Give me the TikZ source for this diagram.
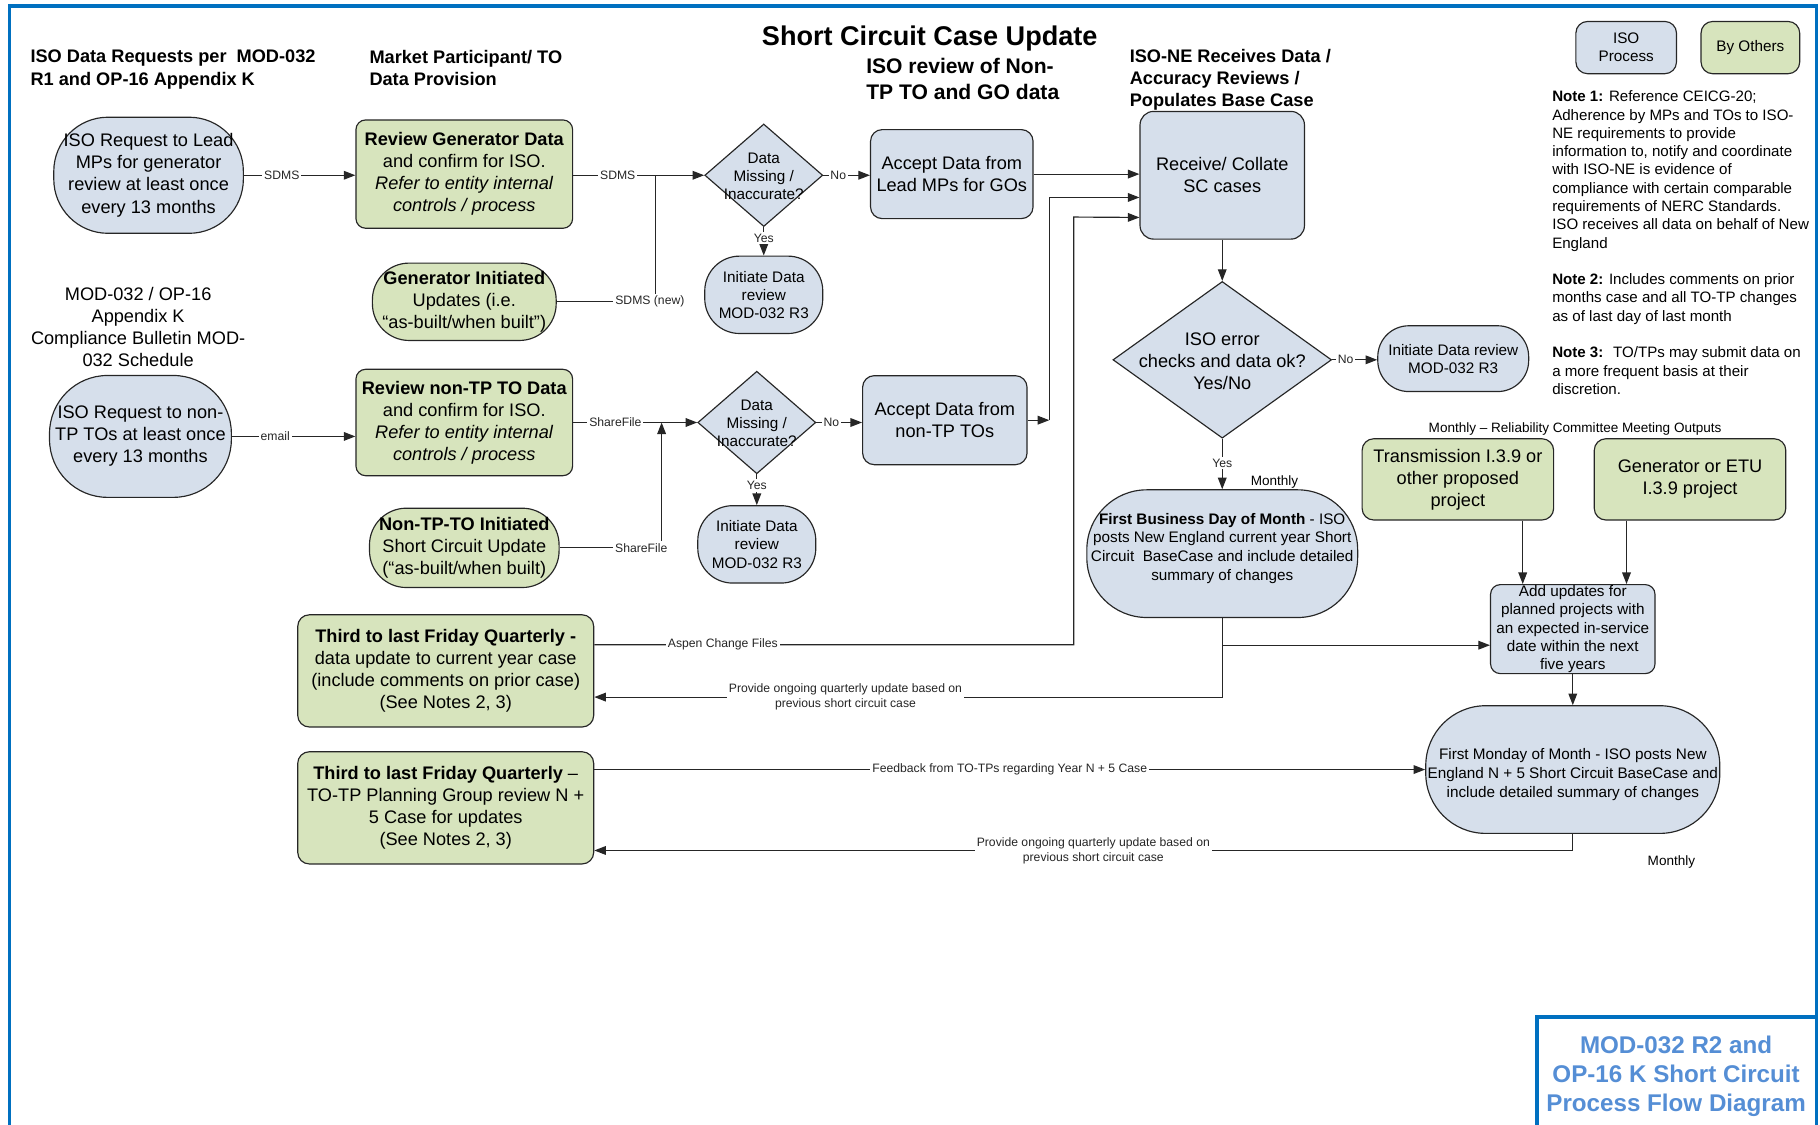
\documentclass[tikz,border=0pt]{standalone}
\usepackage{fontspec}
\setmainfont{Liberation Sans}
\usetikzlibrary{shapes.geometric, arrows.meta}
\definecolor{isoblue}{HTML}{D6DFEB}
\definecolor{othgreen}{HTML}{D7E4BD}
\definecolor{framebl}{HTML}{0070C0}
\definecolor{titlebl}{HTML}{558ED5}
\newcommand{\fmain}{\fontsize{9.4}{11.4}\selectfont}
\newcommand{\fsmall}{\fontsize{7.9}{9.4}\selectfont}
\newcommand{\flbl}{\fontsize{6.3}{7.8}\selectfont}
\newcommand{\dtxt}[2][0pt]{\makebox[0pt]{\smash{\raisebox{\dimexpr-0.42em+#1\relax}{\begin{tabular}[c]{@{}c@{}}#2\end{tabular}}}}}

\begin{document}
\begin{tikzpicture}
                \tikzset{x=0.6pt, y=-0.6pt, >={Triangle[length=6pt,width=4.5pt]}}
                \tikzstyle{iso}=[rectangle, draw=black!85, fill=isoblue, line width=0.6pt, align=center, font=\fmain, inner sep=1pt]
                \tikzstyle{oth}=[iso, fill=othgreen]
                \tikzstyle{dia}=[diamond, draw=black!85, fill=isoblue, line width=0.6pt, inner sep=0pt, font=\fsmall]
                \tikzstyle{lbl}=[fill=white, inner sep=1pt, font=\flbl, align=center]
                \tikzstyle{hdr}=[anchor=north west, inner sep=0pt, align=left, font=\fmain\bfseries]
                \tikzstyle{con}=[->, line width=0.6pt, black!85]
                \tikzstyle{wire}=[line width=0.6pt, black!85]

                \useasboundingbox (0, 0) rectangle (1568, 969);
                \draw [framebl, line width=1.8pt] (8, 969) -- (8, 5) -- (1565, 5) -- (1565, 969);
                \draw [framebl, line width=1.8pt] (1324, 969) -- (1324, 876) -- (1565, 876);

                \draw (801, 33)     node[font=\fontsize{14}{17}\selectfont\bfseries]   (title)  {Short Circuit Case Update};
                \draw (26, 43)      node[hdr]   (hdrreq) {ISO Data Requests per~ MOD-032\\R1 and OP-16 Appendix K};
                \draw (318, 43)     node[hdr]   (hdrmp)  {Market Participant/ TO\\Data Provision};
                \draw (746, 50)     node[hdr, font=\fontsize{10.9}{13.2}\selectfont\bfseries]  (hdrrev) {ISO review of Non-\\TP TO and GO data};
                \draw (973, 42)     node[hdr]   (hdrne)  {ISO-NE Receives Data /\\Accuracy Reviews /\\Populates Base Case};

                \draw (1401, 41)    node[iso, font=\fsmall, minimum width=52pt, minimum height=27pt, rounded corners=6pt]  (isoleg) {ISO\\Process};
                \draw (1508, 41)    node[oth, font=\fsmall, minimum width=51pt, minimum height=27pt, rounded corners=6pt]  (othleg) {By Others};

                \draw (1337, 78)    node[anchor=north west, align=left, inner sep=0pt, font=\fontsize{7.8}{9.45}\selectfont]  (notes)
                    {\textbf{Note 1:} Reference CEICG-20;\\Adherence by MPs and TOs to ISO-\\NE requirements to provide\\information to, notify and coordinate\\with ISO-NE is evidence of\\compliance with certain comparable\\requirements of NERC Standards.\\ISO receives all data on behalf of New\\England\\[9.45pt]
                     \textbf{Note 2:} Includes comments on prior\\months case and all TO-TP changes\\as of last day of last month\\[9.45pt]
                     \textbf{Note 3:}~ TO/TPs may submit data on\\a more frequent basis at their\\discretion.};

                \draw (119, 282)    node[align=center, font=\fmain]  (compl)  {MOD-032 / OP-16\\Appendix K\\Compliance Bulletin MOD-\\032 Schedule};
                \draw (1357, 370)   node[font=\fontsize{7}{8}\selectfont]  (meet)  {Monthly – Reliability Committee Meeting Outputs};
                \draw (1098, 415)   node[font=\fontsize{7}{8}\selectfont]  (mon1)  {Monthly};
                \draw (1440, 743)   node[font=\fontsize{7}{8}\selectfont]  (mon2)  {Monthly};
                \draw (1444, 927)   node[align=center, text=titlebl, font=\fontsize{12.5}{15}\selectfont\bfseries]  (diagname) {MOD-032 R2 and\\OP-16 K Short Circuit\\Process Flow Diagram};

                \draw (128, 151)    node[iso, minimum width=98pt, minimum height=60pt, rounded corners=28pt]  (req1)    {ISO Request to Lead\\MPs for generator\\review at least once\\every 13 months};
                \draw (400, 150)    node[oth, minimum width=112pt, minimum height=56pt, rounded corners=5pt]  (revgen)  {\textbf{Review Generator Data}\\and confirm for ISO.\\\textit{Refer to entity internal}\\\textit{controls / process}};
                \draw (400, 260)    node[oth, minimum width=95pt, minimum height=40pt, rounded corners=19pt]  (geninit) {\textbf{Generator Initiated}\\Updates (i.e.\\“as-built/when built”)};
                \draw (658, 151)    node[dia, minimum width=61pt, minimum height=53pt]  (dm1)  {\dtxt{Data\\Missing /\\Inaccurate?}};
                \draw (820, 150)    node[iso, minimum width=84pt, minimum height=46pt, rounded corners=6pt]  (acc1)    {Accept Data from\\Lead MPs for GOs};
                \draw (658, 254)    node[iso, font=\fsmall, minimum width=61pt, minimum height=40pt, rounded corners=18pt]  (idr1) {Initiate Data\\review\\MOD-032 R3};
                \draw (1053, 151)   node[iso, minimum width=85pt, minimum height=66pt, rounded corners=7pt]  (recv)    {Receive/ Collate\\SC cases};
                \draw (1053, 310)   node[dia, font=\fmain, minimum width=113pt, minimum height=81pt]  (err)  {\dtxt{ISO error\\checks and data ok?\\Yes/No}};
                \draw (1252, 309)   node[iso, font=\fsmall, minimum width=78pt, minimum height=34pt, rounded corners=16pt]  (idr3) {Initiate Data review\\MOD-032 R3};

                \draw (121, 376)    node[iso, minimum width=94pt, minimum height=63pt, rounded corners=30pt]  (req2)    {ISO Request to non-\\TP TOs at least once\\every 13 months};
                \draw (400, 364)    node[oth, minimum width=112pt, minimum height=55pt, rounded corners=5pt]  (revnon)  {\textbf{Review non-TP TO Data}\\and confirm for ISO.\\\textit{Refer to entity internal}\\\textit{controls / process}};
                \draw (400, 472)    node[oth, minimum width=98pt, minimum height=41pt, rounded corners=19pt]  (noninit) {\textbf{Non-TP-TO Initiated}\\Short Circuit Update\\(“as-built/when built)};
                \draw (652, 364)    node[dia, minimum width=61pt, minimum height=53pt]  (dm2)  {\dtxt{Data\\Missing /\\Inaccurate?}};
                \draw (814, 362)    node[iso, minimum width=85pt, minimum height=46pt, rounded corners=6pt]  (acc2)    {Accept Data from\\non-TP TOs};
                \draw (652, 469)    node[iso, font=\fsmall, minimum width=61pt, minimum height=40pt, rounded corners=18pt]  (idr2) {Initiate Data\\review\\MOD-032 R3};

                \draw (1053, 477)   node[iso, font=\fontsize{7.9}{9.6}\selectfont, inner sep=0pt, minimum width=140pt, minimum height=66pt, rounded corners=31pt]  (fbd)
                    {\dtxt[4pt]{\textbf{First Business Day of Month} - ISO\\posts New England current year Short\\Circuit~ BaseCase and include detailed\\summary of changes}};
                \draw (1256, 413)   node[oth, minimum width=99pt, minimum height=42pt, rounded corners=6pt]  (trans)   {Transmission I.3.9 or\\other proposed\\project};
                \draw (1456, 413)   node[oth, minimum width=99pt, minimum height=42pt, rounded corners=6pt]  (genetu)  {Generator or ETU\\I.3.9 project};
                \draw (1355, 542)   node[iso, font=\fontsize{7.9}{9.4}\selectfont, inner sep=0.5pt, minimum width=85pt, minimum height=46pt, rounded corners=5pt]  (addupd)
                    {Add updates for\\planned projects with\\an expected in-service\\date within the next\\five years};
                \draw (1355, 663)   node[iso, font=\fontsize{7.9}{9.9}\selectfont, inner sep=0pt, minimum width=152pt, minimum height=66pt, rounded corners=31pt]  (fmm)
                    {\dtxt[-1.2pt]{First Monday of Month - ISO posts New\\England N + 5 Short Circuit BaseCase and\\include detailed summary of changes}};
                \draw (384, 578)    node[oth, minimum width=153pt, minimum height=58pt, rounded corners=6pt]  (tlf1)   {\textbf{Third to last Friday Quarterly -}\\data update to current year case\\(include comments on prior case)\\(See Notes 2, 3)};
                \draw (384, 696)    node[oth, minimum width=153pt, minimum height=58pt, rounded corners=6pt]  (tlf2)   {\textbf{Third to last Friday Quarterly} –\\TO-TP Planning Group review N +\\5 Case for updates\\(See Notes 2, 3)};

                \coordinate (j1) at (565, 151);
                \coordinate (j2) at (570, 364);
                \coordinate (k2) at (904, 362);
                \coordinate (k3) at (925, 187);

                \draw [con]     (req1.east) -- node[lbl, pos=0.34] {SDMS} (req1.east -| revgen.west);
                \draw [con]     (revgen.east |- dm1.west) -- node[lbl, pos=0.34] {SDMS} (dm1.west);
                \draw [wire]    (geninit.east) -| node[lbl, pos=0.47] {SDMS (new)} (j1);
                \draw [con]     (dm1.east) -- node[lbl, pos=0.32] {No} (dm1.east -| acc1.west);
                \draw [con]     (dm1.south) -- node[lbl, pos=0.38] {Yes} (idr1.north);
                \draw [con]     (acc1.east) -- (acc1.east -| recv.west);

                \draw [con]     (req2.east) -- node[lbl, pos=0.35] {email} (req2.east -| revnon.west);
                \draw [con]     (revnon.east |- dm2.west) -- node[lbl, pos=0.34] {ShareFile} (dm2.west);
                \draw [con]     (noninit.east) -| node[lbl, pos=0.4] {ShareFile} (j2);
                \draw [con]     (dm2.east) -- node[lbl, pos=0.33] {No} (dm2.east -| acc2.west);
                \draw [con]     (dm2.south) -- node[lbl, pos=0.36] {Yes} (idr2.north);
                \draw [con]     (acc2.east) -- (k2);
                \draw [con]     (k2) |- (recv.195);
                \draw [con]     (tlf1.10) -| node[lbl, pos=0.134] {Aspen Change Files} (k3) -- (recv.207);

                \draw [con]     (recv.south) -- (err.north);
                \draw [con]     (err.east) -- node[lbl, pos=0.3] {No} (err.east -| idr3.west);
                \draw [con]     (err.south) -- node[lbl, pos=0.48] {Yes} (fbd.north);
                \draw [con]     (fbd.south) |- (addupd.191);
                \draw [con]     (fbd.south) |- node[lbl, pos=0.8] {Provide ongoing quarterly update based on\\previous short circuit case} (tlf1.350);
                \draw [con]     (trans.south -| addupd.138) -- (addupd.138);
                \draw [con]     (genetu.south -| addupd.40) -- (addupd.40);
                \draw [con]     (addupd) -- (fmm);
                \draw [con]     (tlf2.east |- fmm.west) -- node[lbl] {Feedback from TO-TPs regarding Year N + 5 Case} (fmm.west);
                \draw [con]     (fmm.south) |- node[lbl, pos=0.745] {Provide ongoing quarterly update based on\\previous short circuit case} (tlf2.344);
            \end{tikzpicture}
\end{document}
